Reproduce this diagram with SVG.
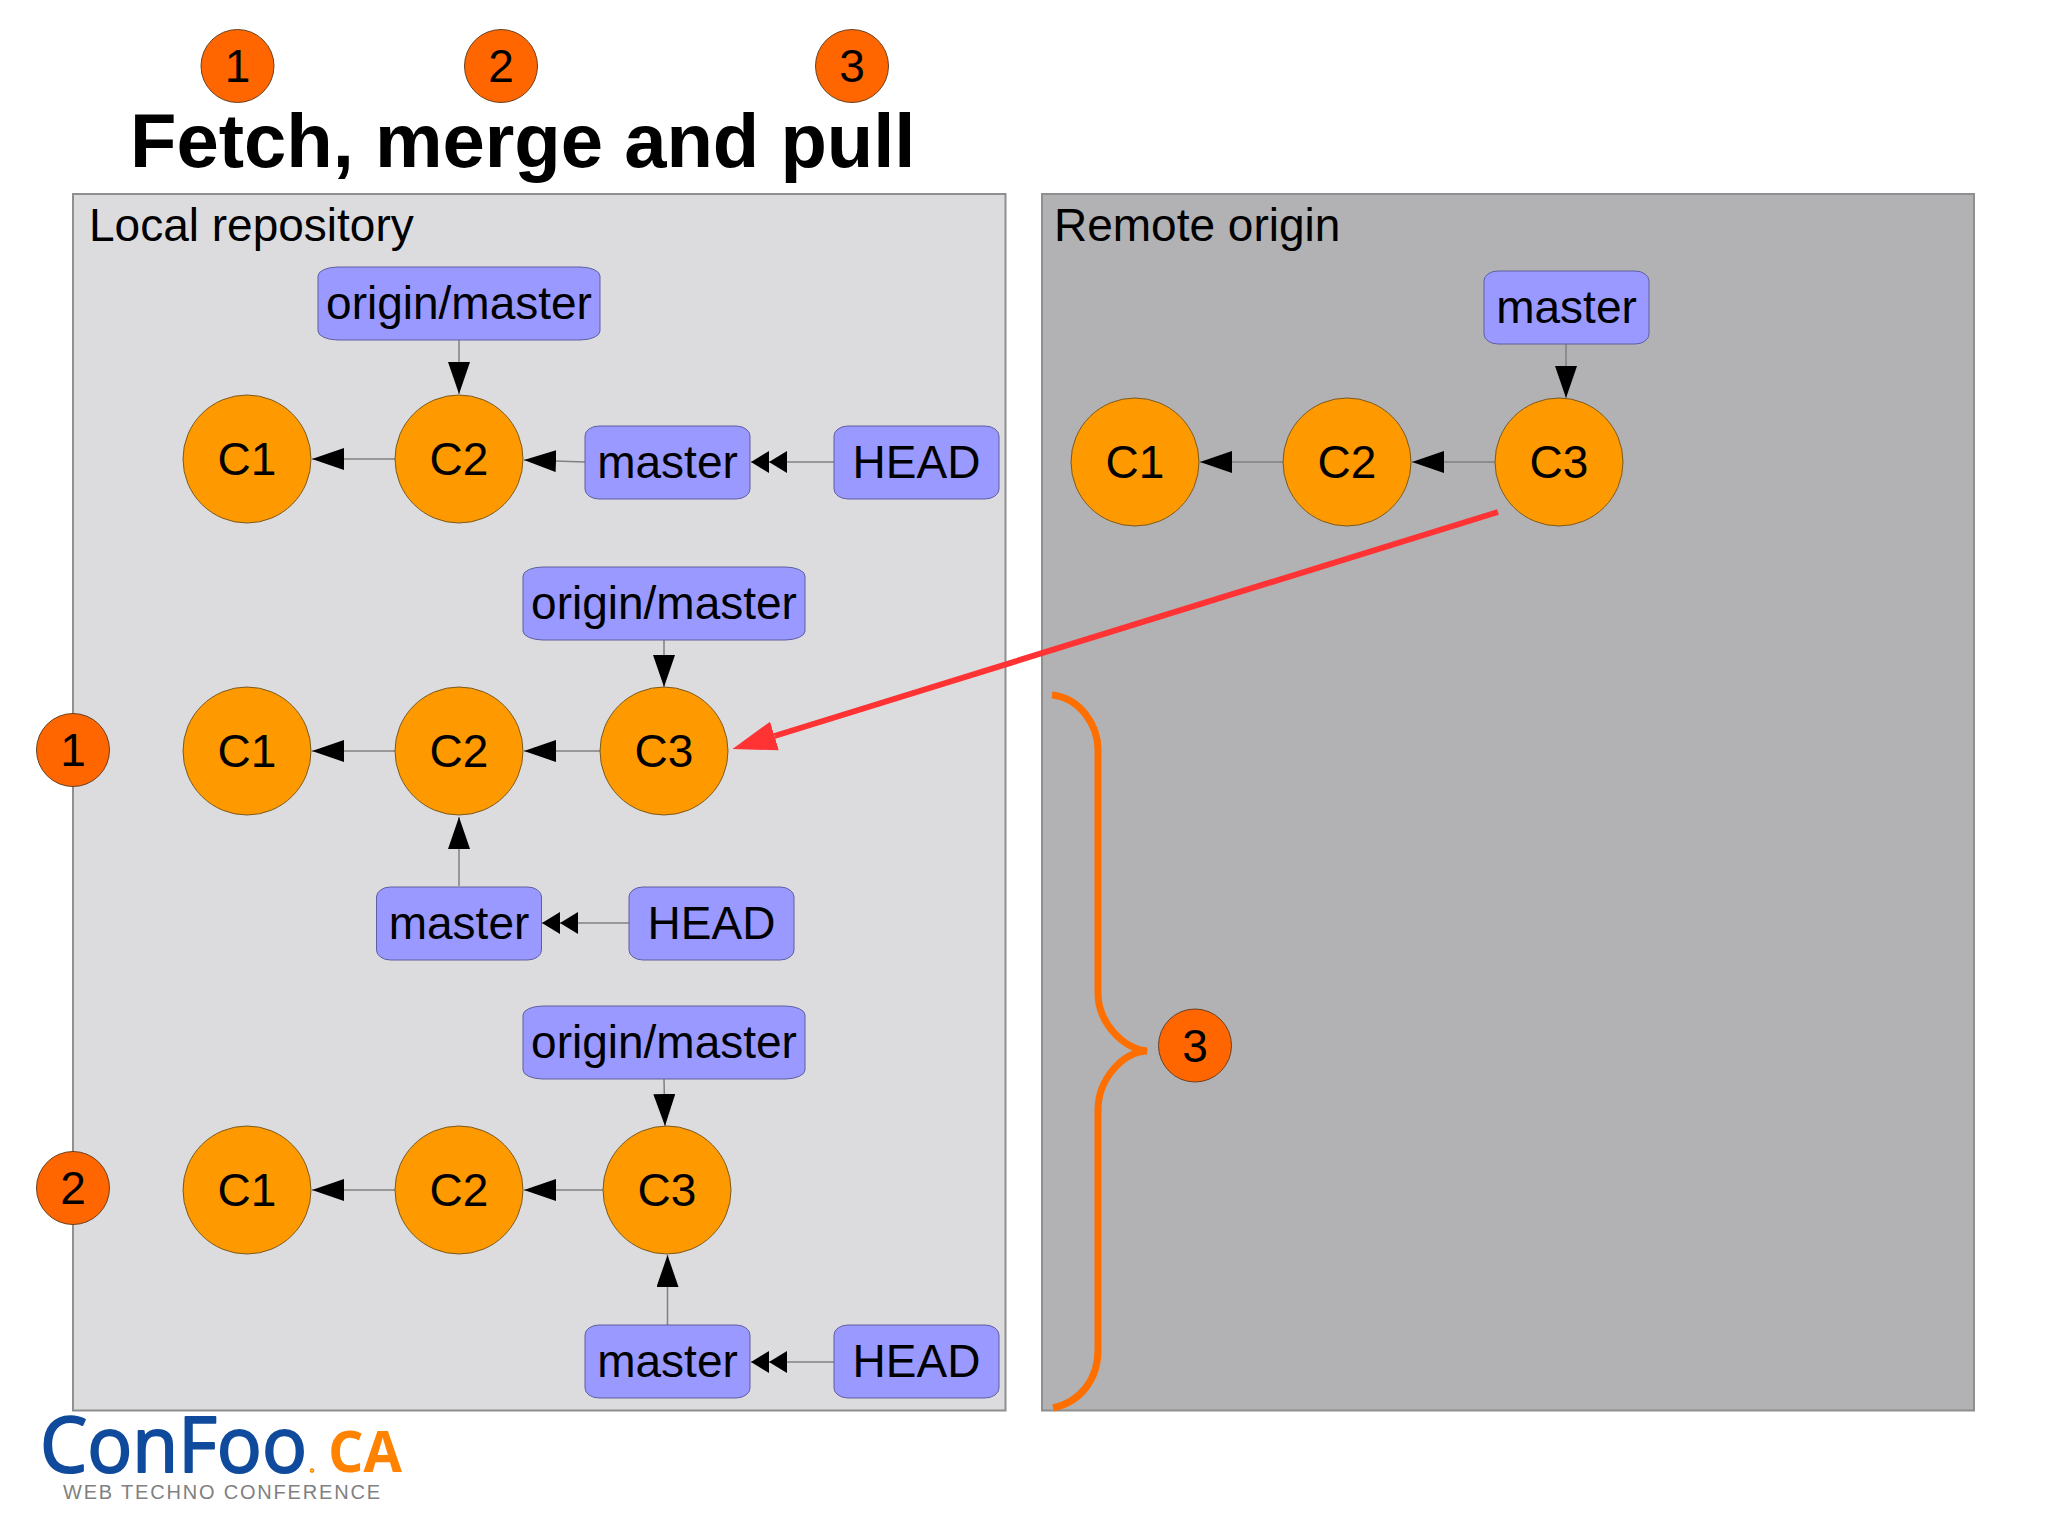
<svg xmlns="http://www.w3.org/2000/svg" width="2048" height="1535" viewBox="0 0 2048 1535">
<style>
text{font-family:"Liberation Sans",Arial,sans-serif;font-size:46px;fill:#000}
.c{text-anchor:middle}
.panel{stroke:#8f8f8f;stroke-width:2}
.commit{fill:#ff9900;stroke:#7a5a20;stroke-width:1}
.ref{fill:#9999ff;stroke:#5f5f9f;stroke-width:1}
.badge{fill:#ff6600;stroke:#6a4020;stroke-width:1}
.link{stroke:#808080;stroke-width:1.5;fill:none}
.single{marker-end:url(#arrow)}
.double{marker-end:url(#arrow2)}
</style>
<defs>
<marker id="arrow" markerUnits="userSpaceOnUse" markerWidth="34" markerHeight="24" refX="32" refY="11" orient="auto"><path d="M0 0L32 11L0 22Z" fill="#000"/></marker>
<marker id="arrow2" markerUnits="userSpaceOnUse" markerWidth="38" markerHeight="24" refX="36" refY="11" orient="auto"><path d="M0 0L18 11L18 0L36 11L18 22L18 11L0 22Z" fill="#000"/></marker>
<marker id="red" markerUnits="userSpaceOnUse" markerWidth="46" markerHeight="32" refX="0" refY="15" orient="auto"><path d="M0 0L44 15L0 30Z" fill="#ff3333"/></marker>
</defs>

<rect id="local-panel" class="panel" x="73" y="194" width="932.500" height="1216.500" fill="#dcdcdf"/>
<rect id="remote-panel" class="panel" x="1042" y="194" width="932" height="1216.500" fill="#b2b1b3"/>
<text id="title" x="130" y="167" font-weight="700" style="font-size:76px;font-weight:700">Fetch, merge and pull</text>
<text id="local-label" x="89" y="241">Local repository</text>
<text id="remote-label" x="1054" y="241">Remote origin</text>

<g id="connectors">
<line class="link single" x1="395" y1="459" x2="312" y2="459"/>
<line class="link single" x1="585" y1="462" x2="524" y2="460"/>
<line class="link double" x1="834" y1="462" x2="751" y2="462"/>
<line class="link single" x1="459" y1="340" x2="459" y2="394"/>
<line class="link single" x1="395" y1="751" x2="312" y2="751"/>
<line class="link single" x1="600" y1="751" x2="524" y2="751"/>
<line class="link single" x1="664" y1="640" x2="664" y2="687"/>
<line class="link single" x1="459" y1="886" x2="459" y2="817"/>
<line class="link double" x1="629" y1="923" x2="542" y2="923"/>
<line class="link single" x1="395" y1="1190" x2="312" y2="1190"/>
<line class="link single" x1="603" y1="1190" x2="524" y2="1190"/>
<line class="link single" x1="664" y1="1079" x2="665" y2="1126"/>
<line class="link single" x1="667.500" y1="1325" x2="667.500" y2="1255"/>
<line class="link double" x1="834" y1="1362" x2="751" y2="1362"/>
<line class="link single" x1="1283" y1="462" x2="1200" y2="462"/>
<line class="link single" x1="1495" y1="462" x2="1412" y2="462"/>
<line class="link single" x1="1566" y1="344" x2="1566" y2="398"/>
<line id="fetch-arrow" x1="1498" y1="512" x2="774.500" y2="736" stroke="#ff3333" stroke-width="6" marker-end="url(#red)"/>
</g>

<path id="brace" d="M1052 695C1080 698 1098 725 1098 750L1098 993C1098 1022 1122 1048 1147 1051C1122 1052 1098 1080 1098 1110L1098 1350C1098 1380 1080 1402 1053 1408" fill="none" stroke="#ff6f00" stroke-width="7"/>

<g id="r1-origin"><rect class="ref" x="318" y="267" width="282" height="73" rx="20" ry="9"/><text class="c" x="459" y="319">origin/master</text></g>
<g id="r1-c1"><circle class="commit" cx="247" cy="459" r="64"/><text class="c" x="247" y="475">C1</text></g>
<g id="r1-c2"><circle class="commit" cx="459" cy="459" r="64"/><text class="c" x="459" y="475">C2</text></g>
<g id="r1-master"><rect class="ref" x="585" y="426" width="165" height="73" rx="14" ry="10"/><text class="c" x="667.500" y="478">master</text></g>
<g id="r1-head"><rect class="ref" x="834" y="426" width="165" height="73" rx="14" ry="10"/><text class="c" x="916.500" y="478">HEAD</text></g>

<g id="r2-origin"><rect class="ref" x="523" y="567" width="282" height="73" rx="20" ry="9"/><text class="c" x="664" y="619">origin/master</text></g>
<g id="r2-c1"><circle class="commit" cx="247" cy="751" r="64"/><text class="c" x="247" y="767">C1</text></g>
<g id="r2-c2"><circle class="commit" cx="459" cy="751" r="64"/><text class="c" x="459" y="767">C2</text></g>
<g id="r2-c3"><circle class="commit" cx="664" cy="751" r="64"/><text class="c" x="664" y="767">C3</text></g>
<g id="r2-master"><rect class="ref" x="376.500" y="887" width="165" height="73" rx="14" ry="10"/><text class="c" x="459" y="939">master</text></g>
<g id="r2-head"><rect class="ref" x="629" y="887" width="165" height="73" rx="14" ry="10"/><text class="c" x="711.500" y="939">HEAD</text></g>

<g id="r3-origin"><rect class="ref" x="523" y="1006" width="282" height="73" rx="20" ry="9"/><text class="c" x="664" y="1058">origin/master</text></g>
<g id="r3-c1"><circle class="commit" cx="247" cy="1190" r="64"/><text class="c" x="247" y="1206">C1</text></g>
<g id="r3-c2"><circle class="commit" cx="459" cy="1190" r="64"/><text class="c" x="459" y="1206">C2</text></g>
<g id="r3-c3"><circle class="commit" cx="667" cy="1190" r="64"/><text class="c" x="667" y="1206">C3</text></g>
<g id="r3-master"><rect class="ref" x="585" y="1325" width="165" height="73" rx="14" ry="10"/><text class="c" x="667.500" y="1377">master</text></g>
<g id="r3-head"><rect class="ref" x="834" y="1325" width="165" height="73" rx="14" ry="10"/><text class="c" x="916.500" y="1377">HEAD</text></g>

<g id="remote-master"><rect class="ref" x="1484" y="271" width="165" height="73" rx="14" ry="10"/><text class="c" x="1566.500" y="323">master</text></g>
<g id="remote-c1"><circle class="commit" cx="1135" cy="462" r="64"/><text class="c" x="1135" y="478">C1</text></g>
<g id="remote-c2"><circle class="commit" cx="1347" cy="462" r="64"/><text class="c" x="1347" y="478">C2</text></g>
<g id="remote-c3"><circle class="commit" cx="1559" cy="462" r="64"/><text class="c" x="1559" y="478">C3</text></g>

<g id="badge-top-1"><circle class="badge" cx="237.500" cy="66" r="36.500"/><text class="c" x="237.500" y="82">1</text></g>
<g id="badge-top-2"><circle class="badge" cx="501" cy="66" r="36.500"/><text class="c" x="501" y="82">2</text></g>
<g id="badge-top-3"><circle class="badge" cx="852" cy="66" r="36.500"/><text class="c" x="852" y="82">3</text></g>
<g id="badge-left-1"><circle class="badge" cx="73" cy="750" r="36.500"/><text class="c" x="73" y="766">1</text></g>
<g id="badge-left-2"><circle class="badge" cx="73" cy="1188" r="36.500"/><text class="c" x="73" y="1204">2</text></g>
<g id="badge-right-3"><circle class="badge" cx="1195" cy="1045.500" r="36.500"/><text class="c" x="1195" y="1061.500">3</text></g>

<g id="logo">
<text x="40" y="1472" textLength="267" lengthAdjust="spacingAndGlyphs" style="font-family:'Open Sans','Liberation Sans',sans-serif;font-size:76px;fill:#0f4a9c;stroke:#0f4a9c;stroke-width:2;stroke-linejoin:round">ConFoo</text>
<text x="309" y="1472" style="font-family:'Open Sans','Liberation Sans',sans-serif;font-size:24px;fill:none;stroke:#ff8200;stroke-width:1.500">.</text>
<text x="328" y="1472" textLength="74" lengthAdjust="spacingAndGlyphs" style="font-family:'Open Sans','Liberation Sans',sans-serif;font-size:58px;font-weight:700;fill:#ff8200">CA</text>
<text x="63" y="1499" textLength="317" style="font-size:20px;fill:#808080">WEB TECHNO CONFERENCE</text>
</g>
</svg>
